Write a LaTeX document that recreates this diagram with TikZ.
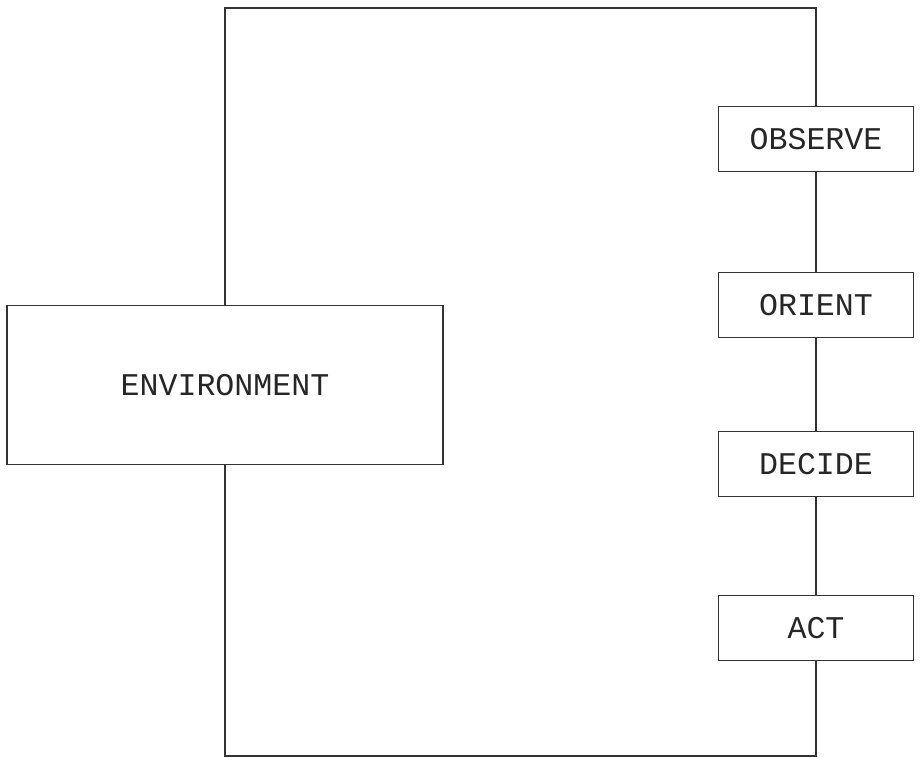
\documentclass[tikz,border=0pt]{standalone}
\usepackage{fontspec}
\newfontfamily\typefont{Liberation Mono}

\begin{document}
\begin{tikzpicture}[x=0.02cm, y=-0.02cm, line width=1.1pt, draw=black!80,
  every node/.style={draw, rectangle, font=\typefont\fontsize{18}{20}\selectfont, text=black!85},
  stage/.style={minimum width=3.9cm, minimum height=1.3cm}]
\useasboundingbox (0,0) rectangle (921,758);
\coordinate (top) at (0,8);
\coordinate (bottom) at (0,756);

\node[minimum width=8.72cm, minimum height=3.18cm] (env) at (225,385) {ENVIRONMENT};
\node[stage] (observe) at (816,139) {OBSERVE};
\node[stage] (orient) at (816,305) {ORIENT};
\node[stage] (decide) at (816,464) {DECIDE};
\node[stage] (act) at (816,628) {ACT};

\draw (env.north) -- (env.north |- top) -- (observe.north |- top) -- (observe.north);
\draw (observe) -- (orient);
\draw (orient) -- (decide);
\draw (decide) -- (act);
\draw (act.south) -- (act.south |- bottom) -- (env.south |- bottom) -- (env.south);
\end{tikzpicture}
\end{document}
